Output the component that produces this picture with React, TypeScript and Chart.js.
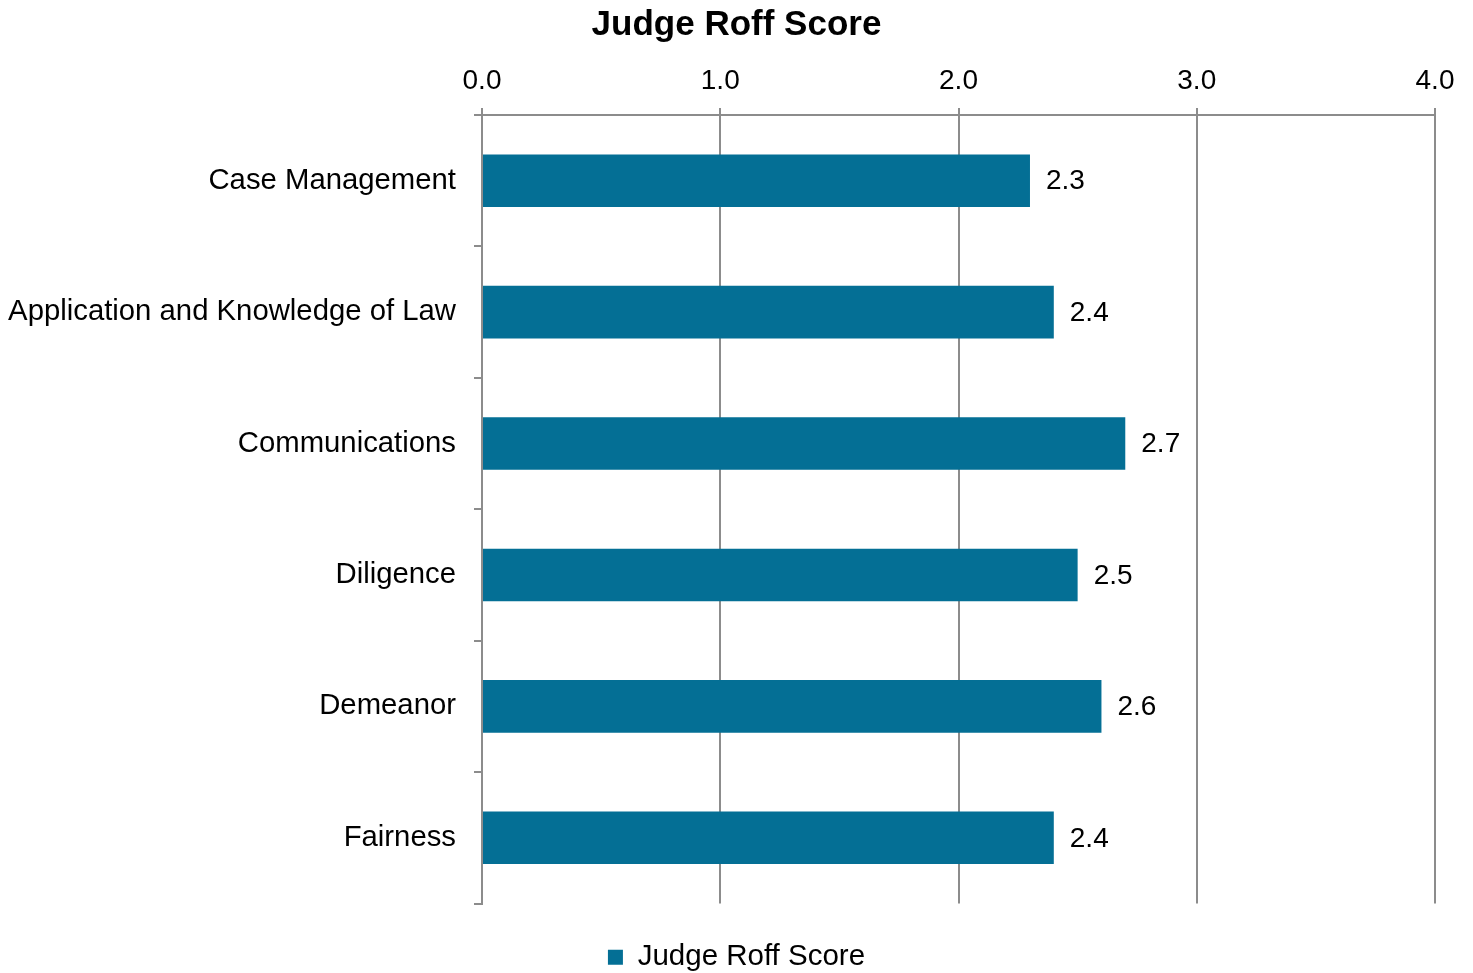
import React, { useEffect, useRef } from "react";
import { Chart, registerables } from "chart.js";

Chart.register(...registerables);

const categories = [
  "Case Management",
  "Application and Knowledge of Law",
  "Communications",
  "Diligence",
  "Demeanor",
  "Fairness",
];
const scores = [2.3, 2.4, 2.7, 2.5, 2.6, 2.4];
const seriesLabel = "Judge Roff Score";
const chartTitle = "Judge Roff Score";
const xTicks = [0, 1, 2, 3, 4];

const FONT = "'Liberation Sans', Arial, Helvetica, sans-serif";
const BAR = "#046f95";
const GRID = "#8c8c8c";

const valueLabels = {
  id: "valueLabels",
  afterDatasetsDraw(chart: any) {
    const ctx = chart.ctx;
    const meta = chart.getDatasetMeta(0);
    ctx.save();
    ctx.font = `28px ${FONT}`;
    ctx.fillStyle = "#000";
    ctx.textAlign = "left";
    ctx.textBaseline = "middle";
    meta.data.forEach((el: any, i: number) => {
      const v = chart.data.datasets[0].data[i];
      ctx.fillText(Number(v).toFixed(1), el.x + 16, el.y + 1);
    });
    ctx.restore();
  },
};

export default function App() {
  const ref = useRef<HTMLCanvasElement>(null);
  useEffect(() => {
    if (!ref.current) return;
    const chart = new Chart(ref.current, {
      type: "bar",
      data: {
        labels: categories,
        datasets: [
          {
            label: seriesLabel,
            data: scores,
            backgroundColor: BAR,
            borderWidth: 0,
            barPercentage: 0.4,
            categoryPercentage: 1,
          },
        ],
      },
      options: {
        indexAxis: "y",
        responsive: false,
        animation: false,
        layout: { padding: { left: 0, right: 0, top: 0, bottom: -9 } },
        plugins: {
          title: {
            display: true,
            text: chartTitle,
            color: "#000",
            font: { family: FONT, size: 35, weight: "bold", lineHeight: 1.2 },
            padding: { top: 4, bottom: 0 },
          },
          legend: {
            display: true,
            position: "bottom",
            title: {
              display: true,
              text: " ",
              font: { size: 1, lineHeight: 1 },
              padding: { top: 35, bottom: 0 },
            },
            labels: {
              color: "#000",
              boxWidth: 15,
              boxHeight: 15,
              padding: 3,
              font: { family: FONT, size: 29.5 },
            },
          },
          tooltip: { enabled: false },
        },
        scales: {
          x: {
            position: "top",
            min: 0,
            max: 4,
            afterBuildTicks(scale: any) {
              scale.ticks = xTicks.map((v) => ({ value: v }));
            },
            afterFit(scale: any) {
              scale.height = 69;
              scale.paddingRight = 38;
            },
            ticks: {
              color: "#000",
              padding: 10,
              font: { family: FONT, size: 28 },
              callback: (v: any) => Number(v).toFixed(1),
            },
            grid: {
              color: GRID,
              lineWidth: 2,
              drawTicks: true,
              tickLength: 7,
            },
            border: { display: true, color: GRID, width: 2 },
          },
          y: {
            afterFit(scale: any) {
              scale.width = 482;
            },
            ticks: {
              color: "#000",
              padding: 18,
              font: { family: FONT, size: 29.3 },
            },
            grid: {
              color: GRID,
              lineWidth: 2,
              drawOnChartArea: false,
              drawTicks: true,
              tickLength: 8,
              offset: true,
            },
            border: { display: true, color: GRID, width: 2 },
          },
        },
      },
      plugins: [valueLabels],
    });
    return () => chart.destroy();
  }, []);
  return (
    <div style={{ position: "absolute", left: 0, top: 0, width: 1473, height: 973, background: "#fff" }}>
      <canvas ref={ref} width={1473} height={973} style={{ display: "block" }} />
    </div>
  );
}
